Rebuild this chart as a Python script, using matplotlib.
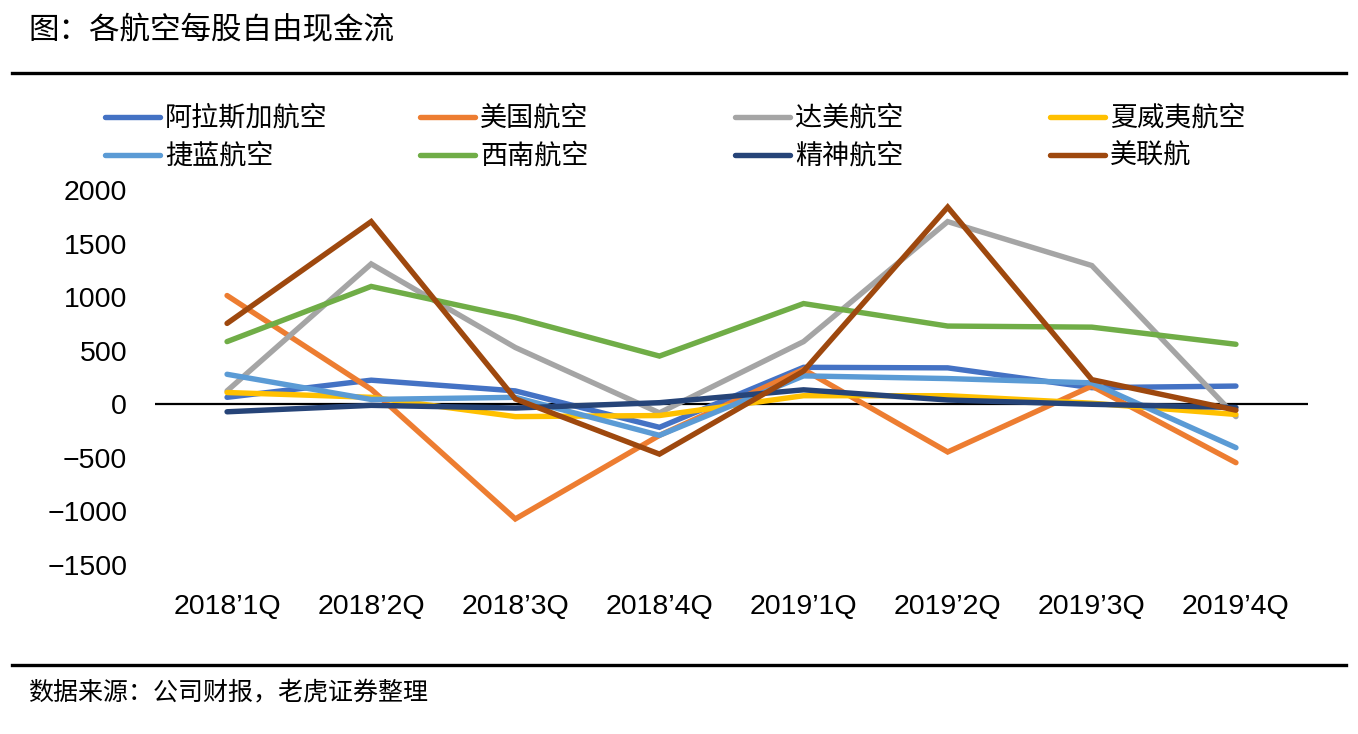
import matplotlib
matplotlib.use("Agg")
import matplotlib.pyplot as plt
from matplotlib.lines import Line2D

plt.rcParams["font.family"] = ["Noto Sans CJK SC", "DejaVu Sans"]
latin = ["Liberation Sans", "DejaVu Sans"]

quarters = ["2018’1Q", "2018’2Q", "2018’3Q", "2018’4Q",
            "2019’1Q", "2019’2Q", "2019’3Q", "2019’4Q"]

alaska = [65, 225, 125, -215, 345, 340, 155, 170]
american = [1015, 140, -1070, -290, 325, -445, 170, -545]
delta = [125, 1310, 530, -80, 585, 1705, 1295, -115]
hawaiian = [110, 65, -115, -105, 80, 80, 10, -95]
jetblue = [280, 45, 65, -290, 265, 240, 200, -405]
southwest = [585, 1100, 810, 450, 940, 730, 720, 560]
spirit = [-70, -10, -35, 15, 135, 40, 0, -30]
united = [755, 1705, 50, -465, 310, 1840, 230, -55]

names = ["阿拉斯加航空", "美国航空", "达美航空", "夏威夷航空",
         "捷蓝航空", "西南航空", "精神航空", "美联航"]
series = [alaska, american, delta, hawaiian, jetblue, southwest, spirit, united]
colors = ["#4472C4", "#ED7D31", "#A5A5A5", "#FFC000",
          "#5B9BD5", "#70AD47", "#264478", "#9E480E"]

W, H = 1358, 734
fig = plt.figure(figsize=(W / 100, H / 100), dpi=100)
ax = fig.add_axes([155 / W, 1 - 565 / H, (1308 - 155) / W, (565 - 190) / H])

x = list(range(len(quarters)))
ax.axhline(0, color="black", lw=1.6, zorder=1)
for vals, c in zip(series, colors):
    ax.plot(x, vals, color=c, lw=3.9, solid_capstyle="round",
            solid_joinstyle="miter", zorder=2)

ax.set_xlim(-0.5, len(quarters) - 0.5)
ax.set_ylim(-1500, 2000)
ax.set_yticks(range(-1500, 2001, 500))
ax.set_xticks(x)
ax.set_xticklabels(quarters)
for lab in ax.get_xticklabels() + ax.get_yticklabels():
    lab.set_family(latin)
    lab.set_fontsize(20.5)
ax.tick_params(axis="y", length=0, pad=20)
ax.tick_params(axis="x", length=0, pad=21)
for s in ax.spines.values():
    s.set_visible(False)

# title, rules, source
fig.text(28 / W, 1 - 31 / H, "图：各航空每股自由现金流", fontsize=22,
         va="center", ha="left")
fig.add_artist(Line2D([12 / W, 1346 / W], [1 - 73 / H] * 2,
                      color="black", lw=2.4))
fig.add_artist(Line2D([12 / W, 1346 / W], [1 - 665 / H] * 2,
                      color="black", lw=2.4))
fig.text(28 / W, 1 - 692 / H, "数据来源：公司财报，老虎证券整理", fontsize=18,
         va="center", ha="left")

# legend, 4 columns x 2 rows
col_x = [105, 420, 735, 1050]
row_y = [117, 155]
for i, (name, c) in enumerate(zip(names, colors)):
    lx = col_x[i % 4]
    ly = 1 - row_y[i // 4] / H
    fig.add_artist(Line2D([lx / W, (lx + 55) / W], [ly, ly], color=c,
                          lw=3.9, solid_capstyle="round"))
    fig.text((lx + 60) / W, ly - 1 / H, name, fontsize=19.5,
             va="center", ha="left")

fig.savefig("out.png", dpi=100)
